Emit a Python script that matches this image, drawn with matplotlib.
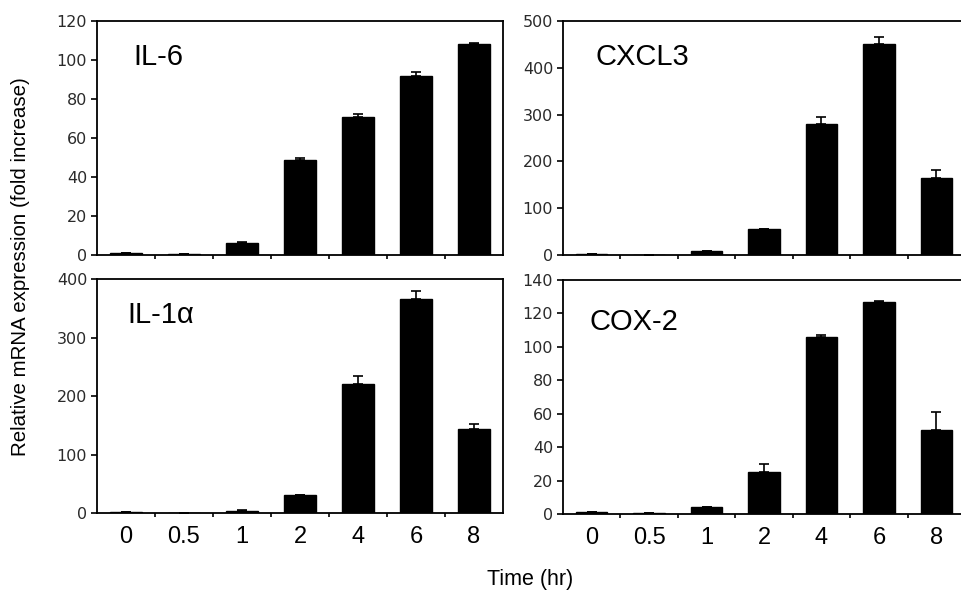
import numpy as np
import matplotlib
matplotlib.use("Agg")
import matplotlib.pyplot as plt

times = ["0", "0.5", "1", "2", "4", "6", "8"]

il6 = [1, 0.5, 6, 49, 71, 92, 108]
il6_err = [0.3, 0.2, 0.5, 1, 1.5, 2, 0.5]

cxcl3 = [2, 1, 8, 55, 280, 450, 165]
cxcl3_err = [0.5, 0.3, 1, 1.5, 15, 15, 17]

il1a = [1, 0.5, 4, 30, 220, 365, 143]
il1a_err = [0.3, 0.2, 0.5, 1.5, 15, 15, 10]

cox2 = [1, 0.5, 4, 25, 106, 127, 50]
cox2_err = [0.3, 0.2, 0.3, 5, 1, 0.3, 11]

panels = [
    ("IL-6", il6, il6_err, 120, 20, [0.1008, 0.569, 0.422, 0.3955], (0.09, 0.846)),
    ("CXCL3", cxcl3, cxcl3_err, 500, 100, [0.5852, 0.569, 0.418, 0.3955], (0.08, 0.846)),
    ("IL-1α", il1a, il1a_err, 400, 100, [0.1008, 0.1334, 0.422, 0.3953], (0.074, 0.846)),
    ("COX-2", cox2, cox2_err, 140, 20, [0.5852, 0.1317, 0.418, 0.3953], (0.067, 0.82)),
]

fig = plt.figure(figsize=(9.62, 5.92), dpi=100)
x = np.arange(len(times))

for i, (name, vals, errs, ymax, step, pos, lab) in enumerate(panels):
    ax = fig.add_axes(pos)
    ax.bar(x, vals, width=0.55, color="black", edgecolor="black",
           yerr=[np.zeros(len(errs)), errs], capsize=3.5,
           error_kw=dict(ecolor="black", elinewidth=1.2, capthick=1.2))
    ax.set_xlim(-0.5, len(times) - 0.5)
    ax.set_ylim(0, ymax)
    ax.set_yticks(np.arange(0, ymax + 1, step))
    ax.tick_params(axis="y", labelsize=11.5, length=4, width=1.2,
                   labelcolor="#2a2a2a", pad=3)
    ax.set_xticks(x)
    ax.set_xticks(np.arange(0.5, len(times) - 1, 1), minor=True)
    ax.tick_params(axis="x", which="major", length=0, pad=9)
    ax.tick_params(axis="x", which="minor", length=3, width=1.2)
    if i >= 2:
        ax.set_xticklabels(times, fontsize=17, family="Liberation Sans")
    else:
        ax.set_xticklabels([])
    for s in ax.spines.values():
        s.set_linewidth(1.3)
    ax.text(lab[0], lab[1], name, transform=ax.transAxes, fontsize=21,
            family="Liberation Sans", va="center", ha="left")

fig.text(0.021, 0.55, "Relative mRNA expression (fold increase)", rotation=90,
         fontsize=14.8, family="Liberation Sans", ha="center", va="center")
fig.text(0.551, 0.021, "Time (hr)", fontsize=15.5, family="Liberation Sans",
         ha="center", va="center")

fig.savefig("out.png", dpi=100)
